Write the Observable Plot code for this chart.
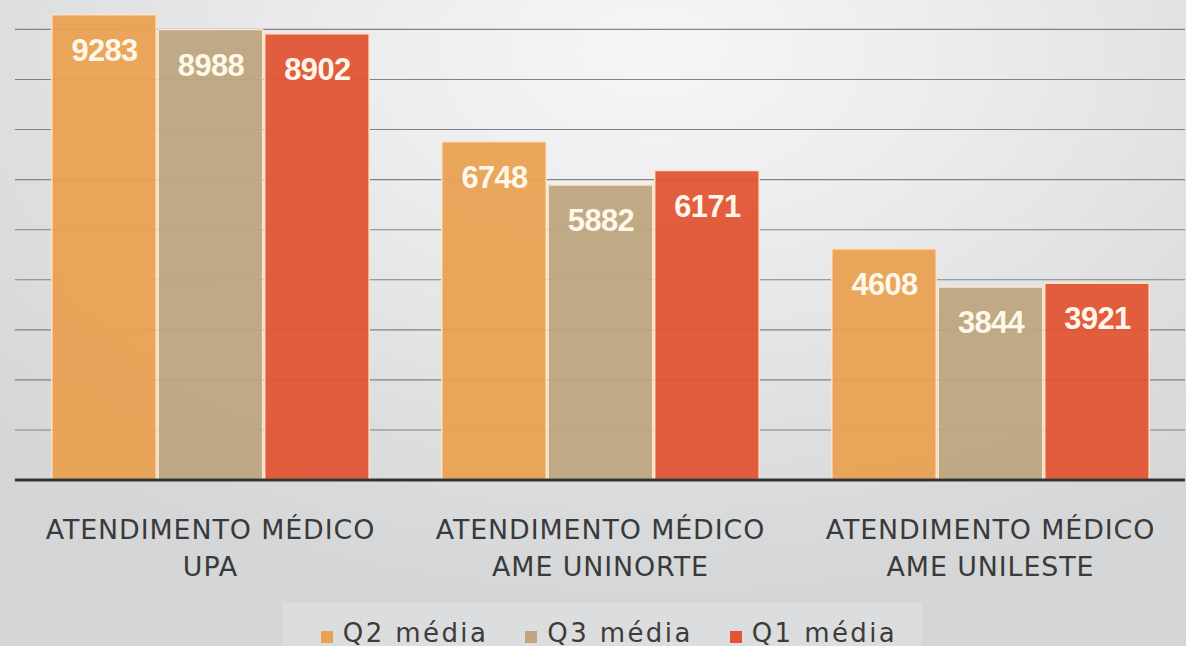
<!DOCTYPE html>
<html>
<head>
<meta charset="utf-8">
<script src="https://cdn.jsdelivr.net/npm/d3@7"></script>
<script src="https://cdn.jsdelivr.net/npm/@observablehq/plot@0.6"></script>
<style>
  html, body { margin: 0; padding: 0; overflow: hidden; }
  body {
    width: 1186px; height: 646px; position: relative;
    background: radial-gradient(ellipse 75% 85% at 55% 8%, #f6f6f8 0%, #ececee 35%, #dedfe1 70%, #d5d6d8 100%);
  }
  #chart svg { display: block; background: transparent; }
  g[font-family^="DejaVu"] text { letter-spacing: 0.9px; }
  g[font-family^="Liberation"] text { letter-spacing: -0.6px; }
  #legend { position: absolute; left: 0; top: 590px; width: 1186px; height: 56px; }
  #legend .box { position: absolute; left: 283px; top: 13px; width: 639px; height: 60px; background: rgba(255,255,255,0.17); }
  #legend .items { position: absolute; left: 0; top: 28px; width: 1186px; box-sizing: border-box; padding-left: 32px;
    display: flex; justify-content: center; align-items: center; gap: 37px;
    font-family: "DejaVu Sans", sans-serif; font-size: 26px; color: #3c3c3c; letter-spacing: 2.4px; line-height: 30px; }
  #legend .item { display: flex; align-items: center; }
  #legend .sw { width: 12px; height: 12px; margin-right: 10px; margin-top: 8px; }
</style>
</head>
<body>
<div id="chart"></div>
<div id="legend"><div class="box"></div><div class="items"></div></div>
<script>
const groups = ["ATENDIMENTO MÉDICO\nUPA", "ATENDIMENTO MÉDICO\nAME UNINORTE", "ATENDIMENTO MÉDICO\nAME UNILESTE"];
const series = ["Q2 média", "Q3 média", "Q1 média"];
const q2Values = [9283, 6748, 4608];
const q3Values = [8988, 5882, 3844];
const q1Values = [8902, 6171, 3921];
const seriesColors = ["#E9A152", "#BEA77F", "#E15534"];
const yTicks = [1000, 2000, 3000, 4000, 5000, 6000, 7000, 8000, 9000];

const seriesValues = [q2Values, q3Values, q1Values];
const rows = groups.flatMap((g, i) => series.map((s, j) => ({group: g, series: s, value: seriesValues[j][i]})));

const chart = Plot.plot({
  width: 1192,
  height: 590,
  marginLeft: 14,
  marginRight: 0,
  marginTop: 0,
  marginBottom: 108,
  fx: {domain: groups, padding: 0, axis: null},
  x: {domain: series, paddingInner: 0.023, paddingOuter: 0.34, axis: null},
  y: {domain: [0, 9577], axis: null},
  color: {domain: series, range: seriesColors},
  marks: [
    Plot.ruleY(yTicks, {stroke: "#828282", strokeWidth: 1.1}),
    Plot.barY(rows, {fx: "group", x: "series", y: "value", fill: "series", fillOpacity: 0.95, stroke: "#FCE4C8", strokeWidth: 1.5}),
    Plot.ruleY([0], {stroke: "#333333", strokeWidth: 3}),
    Plot.text(rows, {fx: "group", x: "series", y: "value", text: d => String(d.value), dy: 36,
      fill: "#FFF7EA", fontSize: 31, fontWeight: "bold", fontFamily: "Liberation Sans, sans-serif"}),
    Plot.text(groups, {fx: d => d, text: d => d, frameAnchor: "bottom", lineAnchor: "top", dy: 32,
      fontSize: 27, lineHeight: 1.4, fill: "#3a3a3a", fontFamily: "DejaVu Sans"})
  ]
});
document.getElementById("chart").append(chart);

const items = document.querySelector("#legend .items");
series.forEach((s, i) => {
  const it = document.createElement("div");
  it.className = "item";
  const sw = document.createElement("span");
  sw.className = "sw";
  sw.style.background = seriesColors[i];
  const t = document.createElement("span");
  t.textContent = s;
  it.append(sw, t);
  items.append(it);
});
</script>
</body>
</html>
